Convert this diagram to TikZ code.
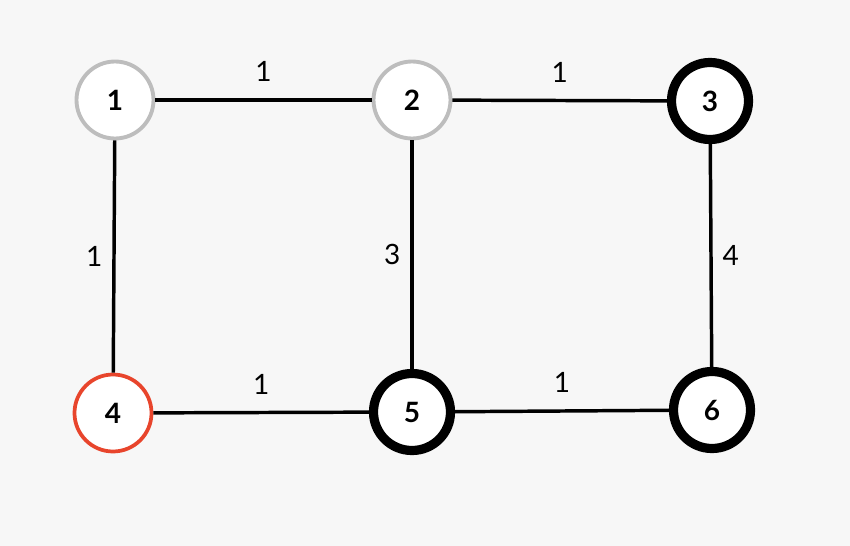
\documentclass[tikz,border=0pt]{standalone}
\usepackage{fontspec}
\setmainfont{Lato}
\usepackage{tikz}
\usetikzlibrary{positioning}
\usepackage{xcolor}
\definecolor{bggray}{HTML}{F7F7F7}
\definecolor{ringgray}{HTML}{BDBDBD}
\definecolor{ringred}{HTML}{E8452C}

\begin{document}
\begin{tikzpicture}[
    x=0.75pt, y=-0.75pt,
    vertex/.style={draw, circle, fill=white, inner sep=0pt, minimum size=57.75pt, font=\fontsize{21}{24}\selectfont\bfseries},
    seen/.style={vertex, draw=ringgray, line width=2.9pt},
    start/.style={vertex, draw=ringred, line width=2.8pt},
    open/.style={vertex, draw=black, line width=6.9pt},
    edge/.style={line width=2.6pt},
    weight/.style={inner sep=0pt, font=\fontsize{21}{24}\selectfont}
  ]
  % background
  \fill[bggray] (0,0) rectangle (850,546);

  % Vertices
  \node[seen] (v1) at (115,100) {1};
  \node[seen] (v2) at (412,100) {2};
  \node[open] (v3) at (710,101) {3};
  \node[start] (v4) at (113,413) {4};
  \node[open] (v5) at (412,412) {5};
  \node[open] (v6) at (712,410) {6};

  % Edges
  \draw[edge] (v1) -- node[weight, above=12.5pt] {1} (v2);
  \draw[edge] (v2) -- node[weight, above=12.5pt] {1} (v3);
  \draw[edge] (v1) -- node[weight, left=7.5pt] {1} (v4);
  \draw[edge] (v2) -- node[weight, left=7.5pt] {3} (v5);
  \draw[edge] (v3) -- node[weight, right=7.5pt] {4} (v6);
  \draw[edge] (v4) -- node[weight, above=12.5pt] {1} (v5);
  \draw[edge] (v5) -- node[weight, above=12.5pt] {1} (v6);
\end{tikzpicture}
\end{document}
